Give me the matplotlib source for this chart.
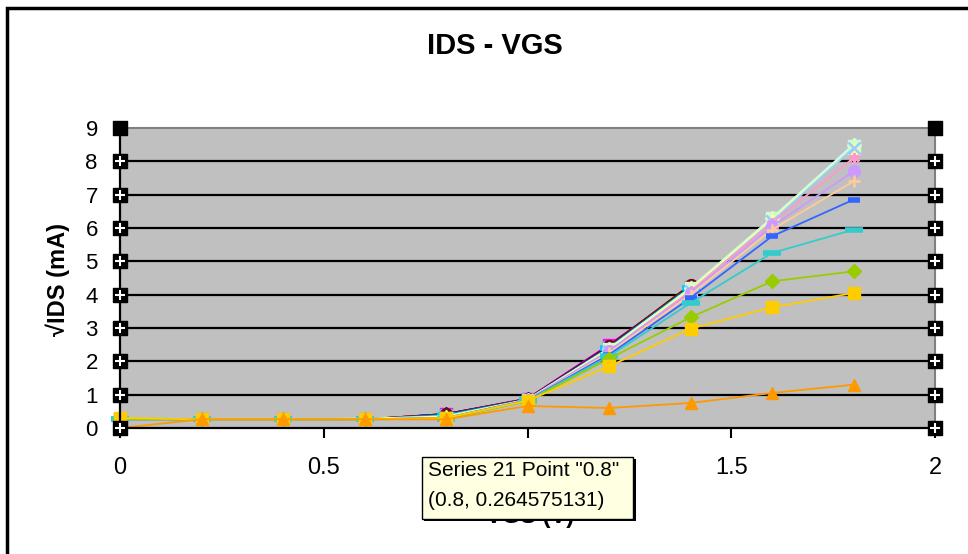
import matplotlib
matplotlib.use("Agg")
import matplotlib.pyplot as plt
import matplotlib.patches as patches
import numpy as np

plt.rcParams['font.family'] = ['Liberation Sans', 'DejaVu Sans']

nan = np.nan
vgs = [0, 0.2, 0.4, 0.6, 0.8, 1.0, 1.2, 1.4, 1.6, 1.8]

# series 1..21
s1 = [0.26, 0.26, 0.26, 0.26, 0.42, 0.86, 2.42, 4.25, nan, nan]
s2 = [0.26, 0.26, 0.26, 0.26, 0.42, 0.88, 2.50, 4.22, nan, nan]
s3 = [0.26, 0.26, 0.26, 0.28, 0.40, 0.87, 2.45, 4.25, nan, nan]
s4 = [0.26, 0.26, 0.26, 0.26, 0.40, 0.86, 2.44, 4.22, nan, nan]
s5 = [0.26, 0.26, 0.26, 0.26, 0.42, 0.88, 2.48, 4.25, nan, nan]
s6 = [0.26, 0.26, 0.26, 0.26, 0.42, 0.87, 2.45, 4.30, nan, nan]
s7 = [0.26, 0.26, 0.26, 0.26, 0.40, 0.86, 2.42, 4.25, nan, nan]
s8 = [0.26, 0.26, 0.26, 0.26, 0.38, 0.85, 2.40, 4.20, nan, nan]
s9 = [0.26, 0.26, 0.26, 0.26, 0.38, 0.85, 2.40, 4.20, nan, nan]
s10 = [0.26, 0.26, 0.26, 0.26, 0.30, 0.85, 2.38, 4.20, 6.30, 8.50]
s11 = [0.26, 0.26, 0.26, 0.26, 0.30, 0.85, 2.38, 4.20, 6.30, 8.45]
s12 = [0.26, 0.26, 0.26, 0.28, 0.35, 0.85, 2.36, 4.15, 6.25, 8.40]
s13 = [0.26, 0.26, 0.26, 0.26, 0.30, 0.84, 2.32, 4.10, 6.20, 8.40]
s14 = [0.26, 0.26, 0.26, 0.26, 0.30, 0.84, 2.30, 4.10, 6.15, 8.10]
s15 = [0.26, 0.26, 0.26, 0.26, 0.30, 0.84, 2.30, 4.05, 6.05, 7.70]
s16 = [0.26, 0.26, 0.26, 0.26, 0.30, 0.83, 2.25, 4.00, 5.95, 7.40]
s17 = [0.26, 0.26, 0.26, 0.26, 0.30, 0.83, 2.20, 3.90, 5.75, 6.85]
s18 = [0.26, 0.26, 0.26, 0.26, 0.28, 0.82, 2.15, 3.75, 5.25, 5.95]
s19 = [0.26, 0.26, 0.26, 0.26, 0.28, 0.80, 2.08, 3.32, 4.40, 4.70]
s20 = [0.30, 0.26, 0.26, 0.26, 0.30, 0.82, 1.85, 2.98, 3.62, 4.05]
s21 = [0.00, 0.26, 0.26, 0.26, 0.26, 0.66, 0.60, 0.75, 1.05, 1.30]
series = [s1, s2, s3, s4, s5, s6, s7, s8, s9, s10, s11, s12, s13, s14, s15,
          s16, s17, s18, s19, s20, s21]

colors = ['#000080', '#FF00FF', '#FFFF00', '#00FFFF', '#800080', '#800000',
          '#008080', '#0000FF', '#00CCFF', '#CCFFFF', '#CCFFCC', '#FFFF99',
          '#99CCFF', '#FF99CC', '#CC99FF', '#FFCC99', '#3366FF', '#33CCCC',
          '#99CC00', '#FFCC00', '#FF9900']
markers = ['D', 's', '^', 'x', (6, 2, 0), 'o', '+', 'dash', 'longdash']

yticks = [0, 1, 2, 3, 4, 5, 6, 7, 8, 9]
xticks = [0, 0.5, 1, 1.5, 2]

fig = plt.figure(figsize=(9.68, 5.54), dpi=100)
ax = fig.add_axes([120 / 968, 1 - 428 / 554, 815 / 968, 300 / 554])
ax.set_facecolor('#C0C0C0')

ax.hlines(yticks[1:-1], 0, 2, colors='black', lw=1.6, zorder=1)

for i, ys in enumerate(series):
    m = markers[i % 9]
    kw = dict(color=colors[i], lw=1.3, zorder=2 + i * 0.01, clip_on=False)
    if m == 'dash':
        ax.plot(vgs, ys, marker='_', ms=8, mew=4, **kw)
    elif m == 'longdash':
        ax.plot(vgs, ys, marker='_', ms=13, mew=4, **kw)
    elif m in ('x', '+') or isinstance(m, tuple):
        ax.plot(vgs, ys, marker=m, ms=8, mew=1.8, **kw)
    else:
        ax.plot(vgs, ys, marker=m, ms=8.5 if m != 'D' else 7.5,
                mec=colors[i], mfc=colors[i], **kw)

ax.set_xlim(0, 2)
ax.set_ylim(0, 9)
ax.set_xticks(xticks)
ax.set_xticklabels(['0', '0.5', '1', '1.5', '2'])
ax.set_yticks(yticks)
ax.tick_params(axis='x', direction='out', length=7, width=1.5, color='black',
               pad=14, labelsize=17)
ax.tick_params(axis='y', length=0, pad=16, labelsize=16)

for side in ['left', 'bottom']:
    ax.spines[side].set_color('black')
    ax.spines[side].set_linewidth(1.6)
for side in ['top', 'right']:
    ax.spines[side].set_color('#808080')
    ax.spines[side].set_linewidth(1.5)

# axis selection handles
for xh in [0, 2]:
    ax.scatter([xh] * 9, yticks[:-1], marker='s', s=95, color='black',
               zorder=10, clip_on=False)
    ax.scatter([xh] * 9, yticks[:-1], marker='+', s=45, color='white',
               linewidths=1.5, zorder=11, clip_on=False)
    ax.scatter([xh], yticks[-1:], marker='s', s=110, color='black',
               zorder=10, clip_on=False)

fig.text(495 / 968, 1 - 46 / 554, 'IDS - VGS', ha='center', va='center',
         fontsize=21, fontweight='bold')
fig.text(58 / 968, 1 - 280 / 554, '√IDS (mA)', ha='center', va='center',
         rotation=90, fontsize=17, fontweight='bold')
fig.text(530 / 968, 1 - 516 / 554, 'VGS (V)', ha='center', va='center',
         fontsize=17, fontweight='bold')

# tooltip
fig.patches.append(patches.Rectangle((424 / 968, 1 - 521 / 554), 212 / 968, 62 / 554,
                                     transform=fig.transFigure, facecolor='black',
                                     edgecolor='none', zorder=20))
fig.patches.append(patches.Rectangle((422 / 968, 1 - 519 / 554), 211 / 968, 62 / 554,
                                     transform=fig.transFigure, facecolor='#FFFFE1',
                                     edgecolor='black', lw=1, zorder=21))
fig.text(428 / 968, 1 - 471 / 554, 'Series 21 Point "0.8"', ha='left',
         va='center', fontsize=15, zorder=22)
fig.text(428 / 968, 1 - 501 / 554, '(0.8, 0.264575131)', ha='left',
         va='center', fontsize=15, zorder=22)

# outer chart border
fig.patches.append(patches.Rectangle((7 / 968, -0.1), 1.2, 1.1 - 8 / 554 + 0.0,
                                     transform=fig.transFigure, fill=False,
                                     edgecolor='black', lw=2.5, zorder=0))

fig.savefig('out.png', dpi=100)
